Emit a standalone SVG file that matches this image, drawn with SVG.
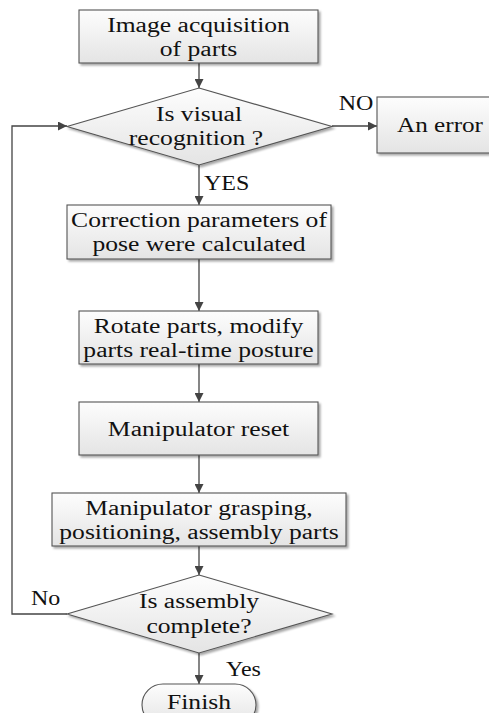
<svg xmlns="http://www.w3.org/2000/svg" width="489" height="713" viewBox="0 0 489 713">
  <style>
    .shape { fill: url(#fillGrad); stroke: #555; stroke-width: 1.1; filter: url(#shadow); }
    .wire { fill: none; stroke: #444; stroke-width: 1.3; }
    .t { font-family: "Liberation Serif", "DejaVu Serif", "Times New Roman", serif; font-size: 20px; fill: #111; text-anchor: middle; }
    .lbl { font-family: "Liberation Serif", "DejaVu Serif", "Times New Roman", serif; font-size: 20px; fill: #111; }
  </style>
  <defs>
    <linearGradient id="fillGrad" x1="0" y1="0" x2="0" y2="1">
      <stop offset="0" stop-color="#fdfdfd"/>
      <stop offset="1" stop-color="#e4e4e4"/>
    </linearGradient>
    <filter id="shadow" x="-10%" y="-10%" width="125%" height="130%">
      <feGaussianBlur in="SourceAlpha" stdDeviation="1.2"/>
      <feOffset dx="2" dy="2" result="b"/>
      <feComponentTransfer><feFuncA type="linear" slope="0.35"/></feComponentTransfer>
      <feMerge><feMergeNode/><feMergeNode in="SourceGraphic"/></feMerge>
    </filter>
    <marker id="arrow" viewBox="0 0 10 10" refX="10" refY="5" markerWidth="9" markerHeight="9" markerUnits="userSpaceOnUse" orient="auto">
      <path d="M0,0 L10,5 L0,10 z" fill="#444"/>
    </marker>
  </defs>

  <!-- connectors -->
  <g id="connectors">
    <line class="wire" x1="199" y1="63" x2="199" y2="88" marker-end="url(#arrow)"/>
    <line class="wire" x1="332" y1="126" x2="377" y2="126" marker-end="url(#arrow)"/>
    <line class="wire" x1="199" y1="165" x2="199" y2="205" marker-end="url(#arrow)"/>
    <line class="wire" x1="199" y1="259" x2="199" y2="311" marker-end="url(#arrow)"/>
    <line class="wire" x1="199" y1="364" x2="199" y2="402" marker-end="url(#arrow)"/>
    <line class="wire" x1="199" y1="455" x2="199" y2="493" marker-end="url(#arrow)"/>
    <line class="wire" x1="199" y1="546" x2="199" y2="575" marker-end="url(#arrow)"/>
    <line class="wire" x1="199" y1="653" x2="199" y2="684" marker-end="url(#arrow)"/>
    <polyline class="wire" points="67,614 12,614 12,126 67,126" marker-end="url(#arrow)"/>
    <text class="lbl" font-family="Liberation Serif, DejaVu Serif, serif" text-anchor="middle" transform="translate(356,110) scale(1.2,1)">NO</text>
    <text class="lbl" font-family="Liberation Serif, DejaVu Serif, serif" transform="translate(204,190) scale(1.2,1)">YES</text>
    <text class="lbl" font-family="Liberation Serif, DejaVu Serif, serif" transform="translate(31,605) scale(1.2,1)">No</text>
    <text class="lbl" font-family="Liberation Serif, DejaVu Serif, serif" transform="translate(226,676) scale(1.2,1)">Yes</text>
  </g>

  <g id="acquire" font-family="Liberation Serif, DejaVu Serif, serif">
    <rect class="shape" x="79" y="10" width="239" height="53"/>
    <text class="t" transform="translate(198.5,31.5) scale(1.28,1)">Image acquisition</text>
    <text class="t" transform="translate(198.5,55.5) scale(1.28,1)">of parts</text>
  </g>

  <g id="recognize" font-family="Liberation Serif, DejaVu Serif, serif">
    <polygon class="shape" points="199,88 332,126.5 199,165 67,126.5"/>
    <text class="t" transform="translate(199,121) scale(1.28,1)">Is visual</text>
    <text class="t" transform="translate(196,145) scale(1.28,1)">recognition ?</text>
  </g>

  <g id="error" font-family="Liberation Serif, DejaVu Serif, serif">
    <rect class="shape" x="377" y="97" width="126" height="56"/>
    <text class="t" transform="translate(440,132) scale(1.26,1)">An error</text>
  </g>

  <g id="correction" font-family="Liberation Serif, DejaVu Serif, serif">
    <rect class="shape" x="67" y="205" width="264" height="54"/>
    <text class="t" transform="translate(199,227) scale(1.28,1)">Correction parameters of</text>
    <text class="t" transform="translate(199,251) scale(1.28,1)">pose were calculated</text>
  </g>

  <g id="rotate" font-family="Liberation Serif, DejaVu Serif, serif">
    <rect class="shape" x="79" y="311" width="239" height="53"/>
    <text class="t" transform="translate(198.5,332.5) scale(1.28,1)">Rotate parts, modify</text>
    <text class="t" transform="translate(198.5,356.5) scale(1.28,1)">parts real-time posture</text>
  </g>

  <g id="reset" font-family="Liberation Serif, DejaVu Serif, serif">
    <rect class="shape" x="79" y="402" width="239" height="53"/>
    <text class="t" transform="translate(198.5,435.5) scale(1.28,1)">Manipulator reset</text>
  </g>

  <g id="grasp" font-family="Liberation Serif, DejaVu Serif, serif">
    <rect class="shape" x="52" y="493" width="294" height="53"/>
    <text class="t" transform="translate(199,514.5) scale(1.28,1)">Manipulator grasping,</text>
    <text class="t" transform="translate(199,538.5) scale(1.28,1)">positioning, assembly parts</text>
  </g>

  <g id="complete" font-family="Liberation Serif, DejaVu Serif, serif">
    <polygon class="shape" points="199,575 332,614 199,653 67,614"/>
    <text class="t" transform="translate(199,608) scale(1.28,1)">Is assembly</text>
    <text class="t" transform="translate(199,633) scale(1.28,1)">complete?</text>
  </g>

  <g id="finish" font-family="Liberation Serif, DejaVu Serif, serif">
    <rect class="shape" x="142" y="684" width="114" height="42" rx="21" ry="21"/>
    <text class="t" transform="translate(199,709) scale(1.28,1)">Finish</text>
  </g>
</svg>
